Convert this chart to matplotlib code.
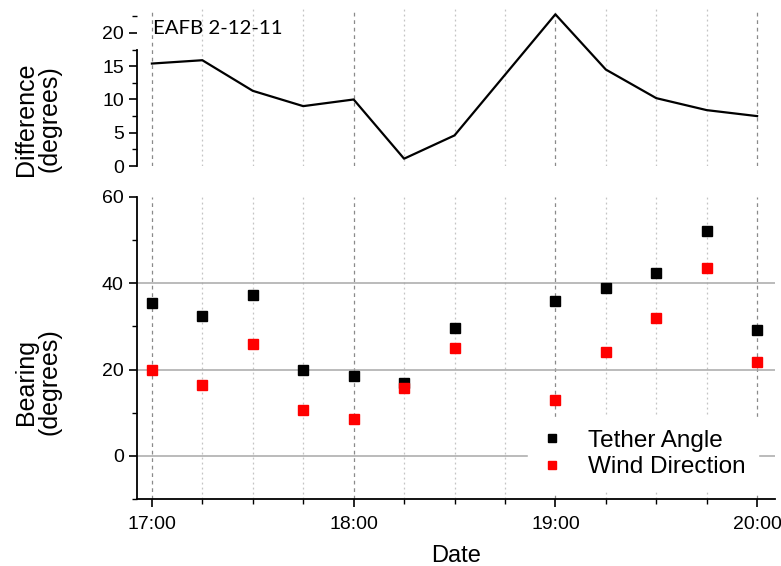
import matplotlib
matplotlib.use("Agg")
import matplotlib.pyplot as plt
from matplotlib.ticker import MultipleLocator, FuncFormatter

plt.rcParams['font.family'] = ['Liberation Sans', 'DejaVu Sans']

# ---- data ----
times = ["17:00", "17:15", "17:30", "17:45", "18:00", "18:15", "18:30",
         "19:00", "19:15", "19:30", "19:45", "20:00"]
tether = [35.4, 32.4, 37.3, 19.8, 18.5, 16.8, 29.6, 35.9, 38.8, 42.3, 52.1, 29.2]
wind = [19.9, 16.5, 25.9, 10.7, 8.5, 15.7, 25.0, 12.9, 24.1, 32.0, 43.6, 21.8]
diff = [15.4, 15.9, 11.3, 9.0, 10.0, 1.1, 4.6, 22.8, 14.5, 10.2, 8.4, 7.5]


def to_hours(s):
    h, m = s.split(":")
    return int(h) + int(m) / 60.0


x = [to_hours(t) for t in times]
XLIM = (16.926, 20.089)


def hhmm(v, pos):
    return f"{int(round(v))}:00"


fig = plt.figure(figsize=(7.81, 5.66), dpi=100)
ax_top = fig.add_axes([0.1754, 0.7067, 0.817, 0.2774])
ax_bot = fig.add_axes([0.1754, 0.1184, 0.817, 0.5336])

# vertical grid lines (15 min dotted, hours dashed)
quarters = [17 + 0.25 * i for i in range(13)]
for ax in (ax_top, ax_bot):
    for q in quarters:
        if abs(q - round(q)) < 1e-6:
            ax.axvline(q, color="#8a8a8a", lw=0.9, ls=(0, (3, 3)), zorder=0)
        else:
            ax.axvline(q, color="#c4c4c4", lw=0.9, ls=(0, (1.5, 2.5)), zorder=0)

# ---- top panel ----
ax_top.plot(x, diff, color="black", lw=1.6, zorder=3)
ax_top.set_xlim(*XLIM)
ax_top.set_ylim(0, 23.6)
ax_top.yaxis.set_major_locator(MultipleLocator(5))
ax_top.yaxis.set_minor_locator(MultipleLocator(2.5))
for s in ("top", "right", "bottom"):
    ax_top.spines[s].set_visible(False)
ax_top.spines["left"].set_bounds(0, 17.4)
ax_top.spines["left"].set_linewidth(1.3)
ax_top.tick_params(axis="x", bottom=False, labelbottom=False)
ax_top.tick_params(axis="y", which="major", length=6, width=1.2, labelsize=14)
ax_top.tick_params(axis="y", which="minor", length=3.5, width=1.0)
ax_top.set_ylabel("Difference\n(degrees)", fontsize=18, linespacing=1.0)
ax_top.yaxis.set_label_coords(-0.118, 0.30)
ax_top.text(0.025, 0.875, "EAFB 2-12-11", transform=ax_top.transAxes,
            fontsize=14.7, family=["Lato", "DejaVu Sans"], va="center", ha="left")

# ---- bottom panel ----
for yv in (0, 20, 40):
    ax_bot.axhline(yv, color="#a8a8a8", lw=1.1, zorder=1)
ax_bot.plot(x, tether, ls="none", marker="s", ms=7.5, color="black",
            label="Tether Angle", zorder=4)
ax_bot.plot(x, wind, ls="none", marker="s", ms=7.5, color="#ff0000",
            label="Wind Direction", zorder=4)
ax_bot.set_xlim(*XLIM)
ax_bot.set_ylim(-10, 60)
ax_bot.yaxis.set_major_locator(MultipleLocator(20))
ax_bot.yaxis.set_minor_locator(MultipleLocator(10))
ax_bot.xaxis.set_major_locator(MultipleLocator(1))
ax_bot.xaxis.set_minor_locator(MultipleLocator(0.25))
ax_bot.xaxis.set_major_formatter(FuncFormatter(hhmm))
for s in ("top", "right"):
    ax_bot.spines[s].set_visible(False)
for s in ("left", "bottom"):
    ax_bot.spines[s].set_linewidth(1.3)
ax_bot.tick_params(which="major", length=6, width=1.2, labelsize=14)
ax_bot.tick_params(which="minor", length=3.5, width=1.0)
ax_bot.tick_params(axis="x", pad=6)
ax_bot.set_ylabel("Bearing\n(degrees)", fontsize=18, linespacing=1.0)
ax_bot.yaxis.set_label_coords(-0.118, 0.387)
ax_bot.set_xlabel("Date", fontsize=17, labelpad=9)

leg = ax_bot.legend(loc="center", bbox_to_anchor=(0.793, 0.149),
                    fontsize=17.5, frameon=True, fancybox=False,
                    edgecolor="white", facecolor="white", framealpha=1,
                    handlelength=1.0, handletextpad=1.0, labelspacing=0.2,
                    borderpad=0.5, markerscale=0.8)
leg.set_zorder(5)

fig.savefig("out.png", dpi=100)
